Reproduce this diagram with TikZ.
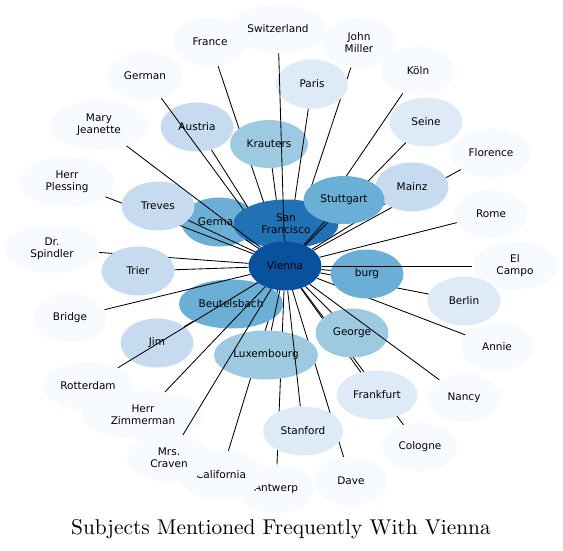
\documentclass[tikz,border=0pt]{standalone}
\usepackage{fontspec}
\usetikzlibrary{shapes.geometric}
\newfontfamily\dejavu{DejaVu Sans}
\newfontfamily\titlefont{lmroman10-regular.otf}
\definecolor{bluea}{HTML}{F7FBFF}
\definecolor{blueb}{HTML}{DEEBF7}
\definecolor{bluec}{HTML}{C6DBEF}
\definecolor{blued}{HTML}{9ECAE1}
\definecolor{bluee}{HTML}{6BAED6}
\definecolor{bluef}{HTML}{2171B5}
\definecolor{blueg}{HTML}{08519C}
\pgfdeclarelayer{front}
\pgfsetlayers{main,front}

\begin{document}
\begin{tikzpicture}[x=1pt,y=-1pt,
    blob/.style={ellipse,draw=none,inner sep=0pt,minimum width=73pt,minimum height=49pt,
      align=center,font=\dejavu\fontsize{10.5}{12}\selectfont},
    ba/.style={blob,fill=bluea},
    bb/.style={blob,fill=blueb},
    bc/.style={blob,fill=bluec},
    bd/.style={blob,fill=blued},
    be/.style={blob,fill=bluee},
    bf/.style={blob,fill=bluef},
    bg/.style={blob,fill=blueg},
    link/.style={line width=0.85pt}]
            \useasboundingbox (0,0) rectangle (563,550);

            \begin{pgfonlayer}{front}
            \node[bg] (V) at (285,266) {Vienna};
            \end{pgfonlayer}

            \node[ba] (Fr) at (210,42) {France};
            \node[ba,minimum width=98pt,minimum height=48pt] (Sw) at (278,29) {Switzerland};
            \node[ba,minimum height=50pt] (JM) at (359,43) {John\\Miller};
            \node[ba,minimum width=75pt] (G1) at (145,76) {German};
            \node[ba,minimum width=98pt,minimum height=50pt] (MJ) at (99,125) {Mary\\Jeanette};
            \node[ba,minimum width=95pt,minimum height=50pt] (HP) at (67,182) {Herr\\Plessing};
            \node[ba,minimum width=95pt,minimum height=48pt] (DS) at (52,249) {Dr.\\Spindler};
            \node[ba] (Br) at (70,318) {Bridge};
            \node[ba,minimum width=90pt,minimum height=48pt] (Ro) at (88,386) {Rotterdam};
            \node[ba,minimum width=122pt] (HZ) at (143,415) {Herr\\Zimmerman};
            \node[ba,minimum width=76pt] (An) at (276,489) {Antwerp};
            \node[ba,minimum width=84pt] (Ca) at (221,475) {California};
            \node[ba,minimum width=84pt,minimum height=48pt] (MC) at (169,458) {Mrs.\\Craven};
            \node[ba,minimum width=72pt] (Da) at (351,481) {Dave};
            \node[ba,minimum width=75pt] (Co) at (420,447) {Cologne};
            \node[ba] (Na) at (464,398) {Nancy};
            \node[ba,minimum height=48pt] (Ai) at (497,347) {Annie};
            \node[ba,minimum width=85pt,minimum height=48pt] (EC) at (515,266) {El\\Campo};
            \node[bb] (Be) at (464,301) {Berlin};
            \node[ba,minimum height=48pt] (Rm) at (491,214) {Rome};
            \node[ba,minimum width=80pt] (Fl) at (491,153) {Florence};
            \node[ba] (Ko) at (418,71) {Köln};
            \node[bb] (Se) at (426,122) {Seine};
            \node[be,minimum width=75pt] (G2) at (219,222) {German};

            \draw[link] (V) -- (Fr);
            \draw[link] (V) -- (JM);
            \draw[link] (V) -- (Ko);
            \draw[link] (V) -- (Fl);
            \draw[link] (V) -- (Ai);
            \draw[link] (V) -- (Be);
            \draw[link] (V) -- (Co);
            \draw[link] (V) -- (An);
            \draw[link] (V) -- (Ca);
            \draw[link] (V) -- (Da);
            \draw[link] (V) -- (HP);
            \draw[link] (V) -- (DS);

            \node[bb,minimum width=72pt] (Pa) at (312,84) {Paris};
            \node[bd,minimum width=78pt,minimum height=48pt] (Kr) at (269,144) {Krauters};
            \node[bc] (Au) at (197,127) {Austria};
            \node[bc] (Mz) at (412,187) {Mainz};
            \node[bb,minimum width=81pt] (Fk) at (377,395) {Frankfurt};
            \node[bb,minimum width=80pt] (St) at (303,431) {Stanford};
            \node[bc] (Tr) at (138,271) {Trier};
            \node[bc] (Tv) at (158,206) {Treves};
            \node[be] (Bu) at (367,274) {burg};
            \node[bc] (Ji) at (157,343) {Jim};

            \draw[link] (V) -- (Pa);
            \draw[link] (V) -- (Kr);
            \draw[link] (V) -- (Au);
            \draw[link] (V) -- (G1);
            \draw[link] (V) -- (Fk);
            \draw[link] (V) -- (Ji);

            \node[bf,minimum width=105pt] (SF) at (286,224) {San\\Francisco};
            \node[bd] (Ge) at (352,333) {George};
            \node[bd,minimum width=104pt] (Lu) at (266,355) {Luxembourg};
            \node[be,minimum width=104pt] (Bt) at (231,304) {Beutelsbach};

            \draw[link] (V) -- (Sw);
            \draw[link] (V) -- (Se);
            \draw[link] (V) -- (MJ);
            \draw[link] (V) -- (Tv);
            \draw[link] (V) -- (G2);
            \draw[link] (V) -- (SF);
            \draw[link] (V) -- (Tr);
            \draw[link] (V) -- (Br);
            \draw[link] (V) -- (Ro);
            \draw[link] (V) -- (HZ);
            \draw[link] (V) -- (MC);
            \draw[link] (V) -- (Lu);
            \draw[link] (V) -- (Bt);
            \draw[link] (V) -- (St);
            \draw[link] (V) -- (Ge);
            \draw[link] (V) -- (Na);
            \draw[link] (V) -- (Bu);
            \draw[link] (V) -- (EC);
            \draw[link] (V) -- (Rm);
            \draw[link] (V) -- (Mz);

            \node[be,minimum width=81pt,minimum height=48pt] (Sg) at (344,200) {Stuttgart};
            \draw[link] (V) -- (Sg);

            \node[anchor=base,font=\titlefont\fontsize{21.4}{25}\selectfont] (T) at (281,534) {Subjects Mentioned Frequently With Vienna};
          \end{tikzpicture}
\end{document}
